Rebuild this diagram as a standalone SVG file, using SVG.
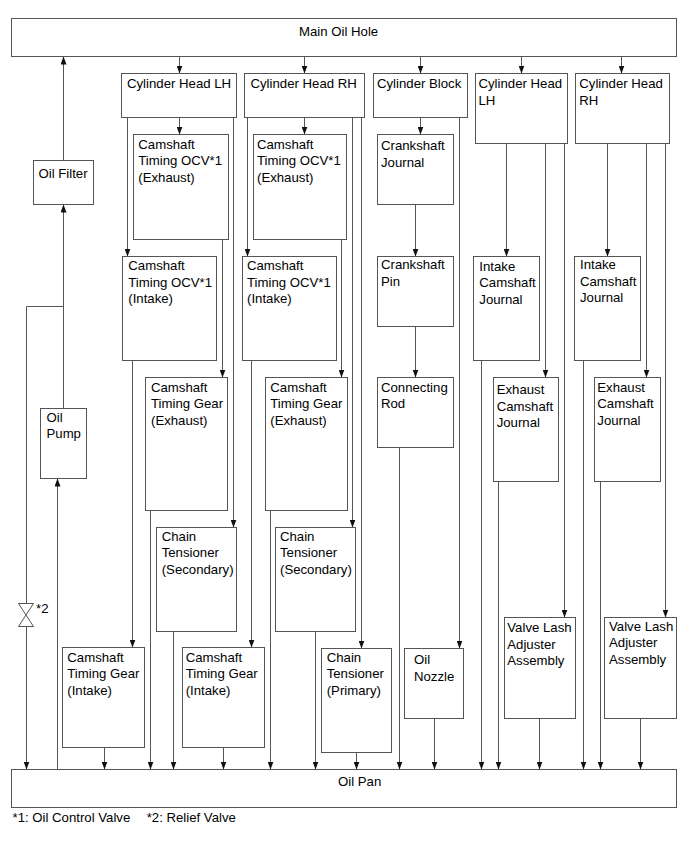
<svg xmlns="http://www.w3.org/2000/svg" width="690" height="855" viewBox="0 0 690 855">
<style>
.b{fill:#fff;stroke:#555;stroke-width:1}
.t{font-family:"Liberation Sans",Arial,sans-serif;font-size:13.2px;fill:#000}
.c{stroke:#555;stroke-width:1;fill:none}
.a{marker-end:url(#ar)}
</style>
<defs>
<marker id="ar" markerUnits="userSpaceOnUse" markerWidth="8" markerHeight="6" refX="8" refY="3" orient="auto">
<path d="M0,0 L8,3 L0,6 z" fill="#111"/>
</marker>
</defs>
<rect width="690" height="855" fill="#fff"/>
<g id="connectors">
<path class="c a" d="M179.5,56.5V73.5"/>
<path class="c a" d="M304.5,56.5V73.5"/>
<path class="c a" d="M420.5,56.5V73.5"/>
<path class="c a" d="M521.5,56.5V73.5"/>
<path class="c a" d="M621.5,56.5V73.5"/>
<path class="c a" d="M179.5,117.5V134.5"/>
<path class="c a" d="M127.5,117.5V256.5"/>
<path class="c a" d="M233.5,117.5V527.5"/>
<path class="c a" d="M222.5,239.5V377.5"/>
<path class="c a" d="M132.5,360.5V647.5"/>
<path class="c a" d="M150.5,510.5V769.5"/>
<path class="c a" d="M173.5,631.5V769.5"/>
<path class="c a" d="M104.5,747.5V769.5"/>
<path class="c a" d="M304.5,117.5V134.5"/>
<path class="c a" d="M247.5,117.5V256.5"/>
<path class="c a" d="M352.5,117.5V527.5"/>
<path class="c a" d="M361.5,117.5V648.5"/>
<path class="c a" d="M341.5,239.5V377.5"/>
<path class="c a" d="M251.5,360.5V647.5"/>
<path class="c a" d="M270.5,510.5V769.5"/>
<path class="c a" d="M315.5,631.5V769.5"/>
<path class="c a" d="M223.5,747.5V769.5"/>
<path class="c a" d="M356.5,752.5V769.5"/>
<path class="c a" d="M420.5,117.5V134.5"/>
<path class="c a" d="M459.5,117.5V648.5"/>
<path class="c a" d="M415.5,204.5V256.5"/>
<path class="c a" d="M415.5,326.5V377.5"/>
<path class="c a" d="M399.5,447.5V769.5"/>
<path class="c a" d="M434.5,718.5V769.5"/>
<path class="c a" d="M506.5,143.5V256.5"/>
<path class="c a" d="M545.5,143.5V377.5"/>
<path class="c a" d="M564.5,143.5V617.5"/>
<path class="c a" d="M481.5,360.5V769.5"/>
<path class="c a" d="M498.5,481.5V769.5"/>
<path class="c a" d="M539.5,718.5V769.5"/>
<path class="c a" d="M607.5,143.5V256.5"/>
<path class="c a" d="M646.5,143.5V377.5"/>
<path class="c a" d="M665.5,143.5V617.5"/>
<path class="c a" d="M583.5,360.5V769.5"/>
<path class="c a" d="M600.5,481.5V769.5"/>
<path class="c a" d="M640.5,718.5V769.5"/>
<path class="c a" d="M57.5,769.5V478.5"/>
<path class="c a" d="M63.5,408.5V204.5"/>
<path class="c a" d="M63.5,160.5V56.5"/>
<path class="c" d="M63.5,306.5H26.5V603.5"/>
<path class="c a" d="M26.5,626.5V769.5"/>
</g>
<g id="relief-valve">
<path class="b" d="M18.5,603.5H33.5L26,615Z"/>
<path class="b" d="M26,615L33.5,626.5H18.5Z"/>
<text class="t" x="36" y="613">*2</text>
</g>
<g id="main-oil-hole"><rect class="b" x="11.5" y="18.5" width="665" height="38"/><text class="t" x="299" y="36">Main Oil Hole</text></g>
<g id="oil-pan"><rect class="b" x="11.5" y="769.5" width="665" height="38"/><text class="t" x="338" y="786">Oil Pan</text></g>
<g id="oil-filter"><rect class="b" x="33.5" y="160.5" width="60" height="44"/><text class="t" x="38.5" y="178">Oil Filter</text></g>
<g id="oil-pump"><rect class="b" x="40.5" y="408.5" width="46" height="70"/><text class="t" x="46.5" y="421.7">Oil</text><text class="t" x="46.5" y="438.3">Pump</text></g>
<g id="cyl-head-lh"><rect class="b" x="121.5" y="73.5" width="115" height="44"/><text class="t" x="127" y="88">Cylinder Head LH</text></g>
<g id="cyl-head-rh"><rect class="b" x="244.5" y="73.5" width="120" height="44"/><text class="t" x="250.5" y="88">Cylinder Head RH</text></g>
<g id="cyl-block"><rect class="b" x="373.5" y="73.5" width="94" height="44"/><text class="t" x="377" y="88">Cylinder Block</text></g>
<g id="cyl-head-lh-2"><rect class="b" x="475.5" y="73.5" width="92" height="70"/><text class="t" x="478.5" y="88">Cylinder Head</text><text class="t" x="478.5" y="104.5">LH</text></g>
<g id="cyl-head-rh-2"><rect class="b" x="575.5" y="73.5" width="94" height="70"/><text class="t" x="579.3" y="88">Cylinder Head</text><text class="t" x="579.3" y="104.5">RH</text></g>
<g id="ocv-exh-lh"><rect class="b" x="133.5" y="134.5" width="95" height="105"/><text class="t" x="138.3" y="148.5">Camshaft</text><text class="t" x="138.3" y="165">Timing OCV*1</text><text class="t" x="138.3" y="181.5">(Exhaust)</text></g>
<g id="ocv-exh-rh"><rect class="b" x="253.5" y="134.5" width="93" height="105"/><text class="t" x="257" y="148.5">Camshaft</text><text class="t" x="257" y="165">Timing OCV*1</text><text class="t" x="257" y="181.5">(Exhaust)</text></g>
<g id="crank-journal"><rect class="b" x="377.5" y="134.5" width="76" height="70"/><text class="t" x="381" y="150">Crankshaft</text><text class="t" x="381" y="166.5">Journal</text></g>
<g id="ocv-int-lh"><rect class="b" x="122.5" y="256.5" width="94" height="104"/><text class="t" x="128.3" y="270">Camshaft</text><text class="t" x="128.3" y="286.5">Timing OCV*1</text><text class="t" x="128.3" y="303">(Intake)</text></g>
<g id="ocv-int-rh"><rect class="b" x="242.5" y="256.5" width="94" height="104"/><text class="t" x="247" y="270">Camshaft</text><text class="t" x="247" y="286.5">Timing OCV*1</text><text class="t" x="247" y="303">(Intake)</text></g>
<g id="crank-pin"><rect class="b" x="377.5" y="256.5" width="76" height="70"/><text class="t" x="381" y="269">Crankshaft</text><text class="t" x="381" y="285.5">Pin</text></g>
<g id="intake-cj-lh"><rect class="b" x="473.5" y="256.5" width="66" height="104"/><text class="t" x="479.3" y="270.7">Intake</text><text class="t" x="479.3" y="287">Camshaft</text><text class="t" x="479.3" y="303.5">Journal</text></g>
<g id="intake-cj-rh"><rect class="b" x="574.5" y="256.5" width="66" height="104"/><text class="t" x="580" y="269">Intake</text><text class="t" x="580" y="285.5">Camshaft</text><text class="t" x="580" y="302">Journal</text></g>
<g id="ctg-exh-lh"><rect class="b" x="145.5" y="377.5" width="82" height="133"/><text class="t" x="151" y="391.7">Camshaft</text><text class="t" x="151" y="408.2">Timing Gear</text><text class="t" x="151" y="424.7">(Exhaust)</text></g>
<g id="ctg-exh-rh"><rect class="b" x="265.5" y="377.5" width="82" height="133"/><text class="t" x="270.3" y="391.7">Camshaft</text><text class="t" x="270.3" y="408.2">Timing Gear</text><text class="t" x="270.3" y="424.7">(Exhaust)</text></g>
<g id="conn-rod"><rect class="b" x="377.5" y="377.5" width="76" height="70"/><text class="t" x="381" y="391.7">Connecting</text><text class="t" x="381" y="408.2">Rod</text></g>
<g id="exh-cj-lh"><rect class="b" x="493.5" y="377.5" width="65" height="104"/><text class="t" x="496.7" y="394">Exhaust</text><text class="t" x="496.7" y="410.5">Camshaft</text><text class="t" x="496.7" y="427">Journal</text></g>
<g id="exh-cj-rh"><rect class="b" x="594.5" y="377.5" width="66" height="104"/><text class="t" x="597.3" y="391.7">Exhaust</text><text class="t" x="597.3" y="408.2">Camshaft</text><text class="t" x="597.3" y="424.7">Journal</text></g>
<g id="cts-lh"><rect class="b" x="156.5" y="527.5" width="80" height="104"/><text class="t" x="161.7" y="540.7">Chain</text><text class="t" x="161.7" y="557.2">Tensioner</text><text class="t" x="161.7" y="573.7">(Secondary)</text></g>
<g id="cts-rh"><rect class="b" x="275.5" y="527.5" width="80" height="104"/><text class="t" x="280" y="540.7">Chain</text><text class="t" x="280" y="557.2">Tensioner</text><text class="t" x="280" y="573.7">(Secondary)</text></g>
<g id="vla-lh"><rect class="b" x="504.5" y="617.5" width="71" height="101"/><text class="t" x="507.3" y="632.3">Valve Lash</text><text class="t" x="507.3" y="648.8">Adjuster</text><text class="t" x="507.3" y="665.3">Assembly</text></g>
<g id="vla-rh"><rect class="b" x="604.5" y="617.5" width="72" height="101"/><text class="t" x="609" y="630.7">Valve Lash</text><text class="t" x="609" y="647.2">Adjuster</text><text class="t" x="609" y="663.7">Assembly</text></g>
<g id="ctg-int-lh"><rect class="b" x="62.5" y="647.5" width="82" height="100"/><text class="t" x="67.3" y="661.7">Camshaft</text><text class="t" x="67.3" y="678.2">Timing Gear</text><text class="t" x="67.3" y="694.7">(Intake)</text></g>
<g id="ctg-int-rh"><rect class="b" x="182.5" y="647.5" width="82" height="100"/><text class="t" x="185.7" y="661.7">Camshaft</text><text class="t" x="185.7" y="678.2">Timing Gear</text><text class="t" x="185.7" y="694.7">(Intake)</text></g>
<g id="ct-primary"><rect class="b" x="321.5" y="648.5" width="70" height="104"/><text class="t" x="326.7" y="661.7">Chain</text><text class="t" x="326.7" y="678.2">Tensioner</text><text class="t" x="326.7" y="694.7">(Primary)</text></g>
<g id="oil-nozzle"><rect class="b" x="404.5" y="648.5" width="59" height="70"/><text class="t" x="414" y="664">Oil</text><text class="t" x="414" y="680.5">Nozzle</text></g>
<g id="footnote"><text class="t" x="12.5" y="822">*1: Oil Control Valve</text><text class="t" x="146.7" y="822">*2: Relief Valve</text></g>
</svg>
